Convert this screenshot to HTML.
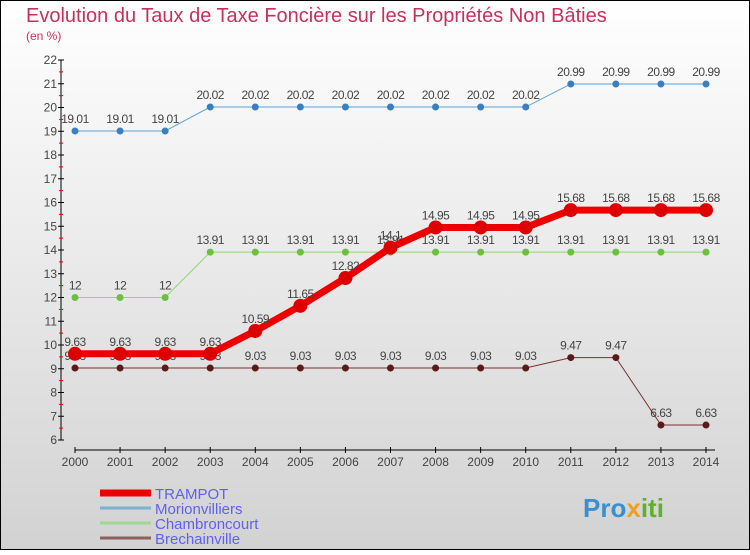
<!DOCTYPE html>
<html><head><meta charset="utf-8"><style>
body{margin:0;width:750px;height:550px;overflow:hidden;font-family:"Liberation Sans",sans-serif}
</style></head><body>
<svg width="750" height="550" viewBox="0 0 750 550" xmlns="http://www.w3.org/2000/svg">
<defs><linearGradient id="bg" x1="0" y1="0" x2="0" y2="1"><stop offset="0" stop-color="#ffffff"/><stop offset="1" stop-color="#d2d2d2"/></linearGradient></defs>
<rect x="0.5" y="0.5" width="749" height="549" fill="url(#bg)" stroke="#000"/>
<text x="26" y="22" font-size="20" fill="#c8305c">Evolution du Taux de Taxe Foncière sur les Propriétés Non Bâties</text>
<text x="26" y="40" font-size="12" fill="#c8305c">(en %)</text>
<g id="axes"></g>
<g id="series"></g>
<g id="legend"></g>
<text x="583" y="517" font-size="26" font-weight="bold" fill="#3a8fd0">Pro<tspan fill="#f0a020">x</tspan><tspan fill="#60b030">iti</tspan></text>
</svg>
<script>
const years=[2000,2001,2002,2003,2004,2005,2006,2007,2008,2009,2010,2011,2012,2013,2014];
const yTicks=[6,7,8,9,10,11,12,13,14,15,16,17,18,19,20,21,22];
const trampot=[9.63,9.63,9.63,9.63,10.59,11.65,12.82,14.1,14.95,14.95,14.95,15.68,15.68,15.68,15.68];
const morion=[19.01,19.01,19.01,20.02,20.02,20.02,20.02,20.02,20.02,20.02,20.02,20.99,20.99,20.99,20.99];
const chambron=[12,12,12,13.91,13.91,13.91,13.91,13.91,13.91,13.91,13.91,13.91,13.91,13.91,13.91];
const brechain=[9.03,9.03,9.03,9.03,9.03,9.03,9.03,9.03,9.03,9.03,9.03,9.47,9.47,6.63,6.63];
const names=["TRAMPOT","Morionvilliers","Chambroncourt","Brechainville"];
const NS="http://www.w3.org/2000/svg";
function X(i){return 75+i*(706-75)/14;}
function Y(v){return 440-(v-6)*(380/16);}
function mk(p,t,a,txt){const e=document.createElementNS(NS,t);for(const k in a)e.setAttribute(k,a[k]);if(txt!==undefined)e.textContent=txt;p.appendChild(e);return e;}
const ax=document.getElementById('axes');
let e=mk(ax,'line',{x1:61,y1:60,x2:61,y2:440,stroke:'#000'});


yTicks.forEach(v=>{
 mk(ax,'line',{x1:58,x2:64,y1:Y(v),y2:Y(v),stroke:'#000'});
 if(v<22)mk(ax,'line',{x1:59,x2:63,y1:Y(v+0.5),y2:Y(v+0.5),stroke:'#e00'});
 const t=mk(ax,'text',{x:57,y:Y(v)+4,'font-size':12,fill:'#444','text-anchor':'end'},String(v));
 
 
});
e=mk(ax,'line',{x1:75,y1:450,x2:715,y2:450,stroke:'#000'});


years.forEach((y,i)=>{
 mk(ax,'line',{x1:X(i),x2:X(i),y1:447,y2:453,stroke:'#000'});
 const t=mk(ax,'text',{x:X(i),y:466,'font-size':12,fill:'#444','text-anchor':'middle'},String(y));
 
 
});
const sg=document.getElementById('series');
const specs=[[brechain,'#7a3030','#5a1a1a',1,3.5],[chambron,'#8fd870','#6cc040',1,3.5],[morion,'#5aa0d8','#3a80c0',1,3.5],[trampot,'#ee0000','#dd0000',7,7]];
const keys=['brechainville','chambroncourt','morionvilliers','trampot'];
specs.forEach(([d,c,cc,w,r],si)=>{
 const pl=mk(sg,'polyline',{points:d.map((v,i)=>X(i)+','+Y(v)).join(' '),fill:'none',stroke:c,'stroke-width':w});
 
 
 d.forEach((v,i)=>{
  const ci=mk(sg,'circle',{cx:X(i),cy:Y(v),r:r,fill:cc});
  
  
  const t=mk(sg,'text',{x:X(i),y:Y(v)-8,'font-size':12,fill:'#444','text-anchor':'middle','letter-spacing':'-0.5'},String(v));
  
  
 });
});
const lg=document.getElementById('legend');
const lc=['#ee0000','#7fb0d0','#a0d890','#8a6060'],lw=[7,3,3,3];
names.forEach((n,i)=>{
 const y=493+i*15;
 const l=mk(lg,'line',{x1:100,x2:151,y1:y,y2:y,stroke:lc[i],'stroke-width':lw[i]});
 
 
 const t=mk(lg,'text',{x:155,y:y+6,'font-size':15,fill:'#6060f0'},n);
 
 
});
</script>
</body></html>
